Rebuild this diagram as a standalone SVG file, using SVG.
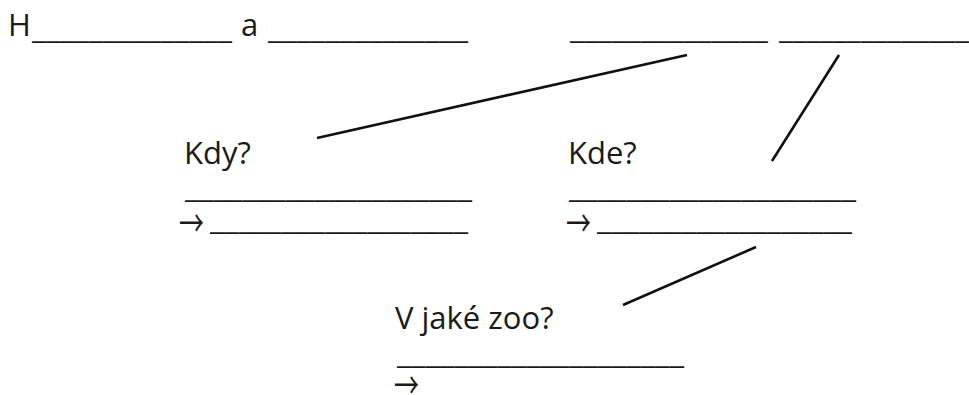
<svg xmlns="http://www.w3.org/2000/svg" width="969" height="395" viewBox="0 0 969 395">
<style>
text{font-family:"Open Sans","Noto Sans","DejaVu Sans",sans-serif;font-size:31px;fill:#1a1a1a}
.u{font-size:28px}
.a{font-family:"Noto Sans CJK JP","DejaVu Sans",sans-serif;font-size:25px}
.c{stroke:#111;stroke-width:2.6;fill:none;stroke-linecap:butt}
</style>
<rect width="969" height="395" fill="#fff"/>
<g id="title">
<text x="8" y="36">H</text>
<text class="u" x="32" y="39" textLength="200" lengthAdjust="spacingAndGlyphs">______________</text>
<text x="241" y="36">a</text>
<text class="u" x="268" y="39" textLength="200" lengthAdjust="spacingAndGlyphs">______________</text>
<text class="u" x="570" y="39" textLength="198" lengthAdjust="spacingAndGlyphs">______________</text>
<text class="u" x="779" y="39" textLength="190" lengthAdjust="spacingAndGlyphs">______________</text>
</g>
<g id="kdy">
<text x="184" y="164">Kdy?</text>
<text class="u" x="185" y="198" textLength="287" lengthAdjust="spacingAndGlyphs">____________________</text>
<text class="a" x="179" y="233" transform="translate(0,224) scale(1,1.45) translate(0,-224)">→</text>
<text class="u" x="210" y="230" textLength="258" lengthAdjust="spacingAndGlyphs">__________________</text>
</g>
<g id="kde">
<text x="568" y="164">Kde?</text>
<text class="u" x="569" y="198" textLength="287" lengthAdjust="spacingAndGlyphs">____________________</text>
<text class="a" x="566" y="233" transform="translate(0,224) scale(1,1.45) translate(0,-224)">→</text>
<text class="u" x="597" y="230" textLength="255" lengthAdjust="spacingAndGlyphs">__________________</text>
</g>
<g id="zoo">
<text x="395" y="329">V jaké zoo?</text>
<text class="u" x="397" y="364" textLength="287" lengthAdjust="spacingAndGlyphs">____________________</text>
<text class="a" x="394" y="395" transform="translate(0,386) scale(1,1.45) translate(0,-386)">→</text>
</g>
<g id="connectors">
<line class="c" x1="317" y1="138" x2="687" y2="55"/>
<line class="c" x1="839" y1="55" x2="772" y2="161"/>
<line class="c" x1="756" y1="247" x2="623" y2="305"/>
</g>
</svg>
